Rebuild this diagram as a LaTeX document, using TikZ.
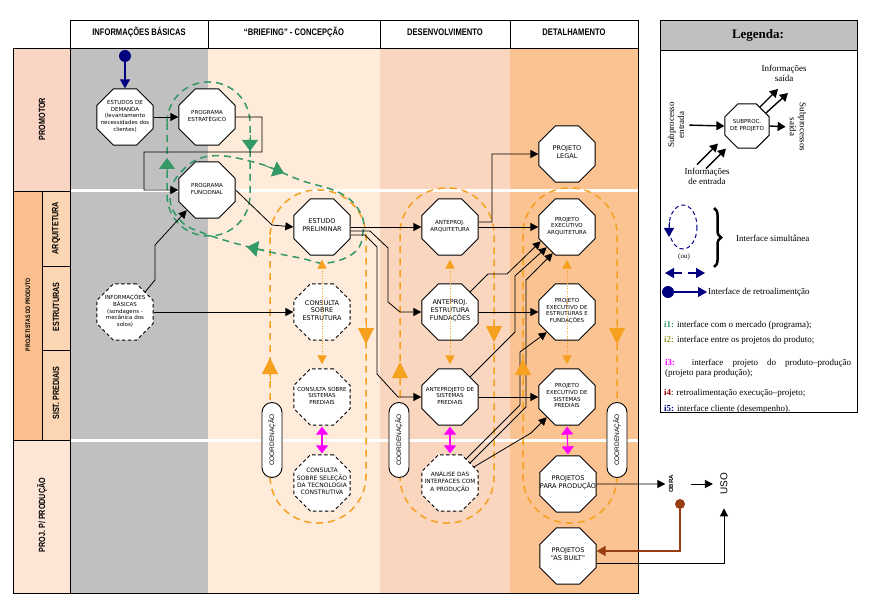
\documentclass[tikz,border=0pt]{standalone}
\usepackage{fontspec}
\setmainfont{Liberation Serif}
\newfontfamily\hdrfont[FakeStretch=0.8]{Liberation Sans}
\newfontfamily\lsansfont{Liberation Sans}
\newfontfamily\octfont{DejaVu Sans}
\usepackage{xcolor}
\usetikzlibrary{shapes.geometric,arrows.meta,decorations.pathreplacing,positioning}

\definecolor{colgray}{HTML}{C0C0C0}
\definecolor{colbrief}{HTML}{FEEBDA}
\definecolor{coldes}{HTML}{FBD6BF}
\definecolor{coldet}{HTML}{FAC391}
\definecolor{labprom}{HTML}{FBD5C4}
\definecolor{labproj}{HTML}{F9C08E}
\definecolor{labsub}{HTML}{FCD6B3}
\definecolor{labprod}{HTML}{FDE6D5}
\definecolor{loopor}{HTML}{F5A01E}
\definecolor{loopgr}{HTML}{339966}
\definecolor{fbnavy}{HTML}{000080}
\definecolor{fbbrown}{HTML}{993D12}
\definecolor{ifmag}{HTML}{FF00FF}
\definecolor{iolive}{HTML}{999933}
\definecolor{ired}{HTML}{990000}

% text of an octagon, kept from changing its size
\newcommand{\octtxt}[1]{\raisebox{-1.5pt}{\smash{\makebox[0pt]{\begin{tabular}{@{}c@{}}#1\end{tabular}}}}}

\begin{document}
\begin{tikzpicture}[x=1pt, y=-1pt,
    octo/.style={regular polygon, regular polygon sides=8, minimum size=61pt, inner sep=0pt,
        draw=black, line width=0.9pt, fill=white, font=\octfont\fontsize{5.5}{6.6}\selectfont},
    octbig/.style={octo, font=\octfont\fontsize{6.5}{7.8}\selectfont},
    octdash/.style={dash pattern=on 3.5pt off 2.5pt},
    conn/.style={draw=black, line width=0.8pt, -{Triangle[length=8pt,width=8pt]}},
    orloop/.style={draw=loopor, line width=1.5pt, dash pattern=on 7pt off 5pt},
    grloop/.style={draw=loopgr, line width=1.5pt, dash pattern=on 7pt off 5pt},
    ortip/.style={draw=loopor, line width=1pt, -{Triangle[length=16pt,width=16pt]}},
    grtip/.style={draw=loopgr, line width=1pt, -{Triangle[length=11pt,width=16pt]}},
    ordot/.style={draw=loopor, line width=1pt, dash pattern=on 1pt off 1.5pt,
        {Triangle[length=9pt,width=9pt]}-{Triangle[length=9pt,width=9pt]}, shorten <=4pt, shorten >=4pt},
    magarr/.style={draw=ifmag, line width=1.2pt,
        {Triangle[length=8pt,width=12pt]}-{Triangle[length=8pt,width=12pt]}, shorten <=1pt, shorten >=1pt},
    coordpill/.style={draw, line width=0.9pt, fill=white, rounded corners=10pt, minimum width=75pt,
        minimum height=20pt, rotate=90, inner sep=0pt, font=\lsansfont\fontsize{6.5}{7}\selectfont},
    hdr/.style={font=\hdrfont\bfseries\fontsize{9.5}{11}\selectfont},
    lane/.style={rotate=90, font=\hdrfont\bfseries\fontsize{9}{10}\selectfont},
    leg/.style={font=\fontsize{9}{10}\selectfont, align=center, inner sep=1pt},
    legarr/.style={draw, line width=1.4pt, -{Triangle[length=8pt,width=9pt]}},
    navyarr/.style={draw=fbnavy, line width=1.6pt, -{Triangle[length=9pt,width=10pt]}}]

    % Page size of the figure
    \useasboundingbox (0,0) rectangle (878,604);

    % Column backgrounds
    \fill[colgray] (70,48) rectangle (208,593);
    \fill[colbrief] (208,48) rectangle (380,593);
    \fill[coldes] (380,48) rectangle (510,593);
    \fill[coldet] (510,48) rectangle (638,593);

    % White lane separators
    \draw[white, line width=3pt] (70,191) -- (638,191);
    \draw[white, line width=3pt] (70,440) -- (638,440);
    \draw[thin] (70,48) rectangle (638,593);

    % Header row
    \draw[thin, fill=white] (70,20) rectangle (208,48);
    \draw[thin, fill=white] (208,20) rectangle (380,48);
    \draw[thin, fill=white] (380,20) rectangle (510,48);
    \draw[thin, fill=white] (510,20) rectangle (638,48);
    \node[hdr] (h_info) at (139,32) {INFORMAÇÕES BÁSICAS};
    \node[hdr] (h_brief) at (294,32) {“BRIEFING” - CONCEPÇÃO};
    \node[hdr] (h_desenv) at (445,32) {DESENVOLVIMENTO};
    \node[hdr] (h_detal) at (574,32) {DETALHAMENTO};

    % Lane labels
    \draw[thin, fill=labprom] (13,48) rectangle (70,191);
    \draw[thin, fill=labproj] (13,191) rectangle (42,440);
    \draw[thin, fill=labsub] (42,191) rectangle (70,266);
    \draw[thin, fill=labsub] (42,266) rectangle (70,350);
    \draw[thin, fill=labsub] (42,350) rectangle (70,440);
    \draw[thin, fill=labprod] (13,440) rectangle (70,593);
    \node[lane] (l_prom) at (42,119) {PROMOTOR};
    \node[lane, font=\hdrfont\bfseries\fontsize{6.5}{7}\selectfont] (l_projet) at (28,315) {PROJETISTAS DO PRODUTO};
    \node[lane] (l_arq) at (56,228) {ARQUITETURA};
    \node[lane] (l_estr) at (56,307) {ESTRUTURAS};
    \node[lane] (l_sist) at (56,393) {SIST. PREDIAIS};
    \node[lane] (l_prod) at (42,515) {PROJ. P/ PRODUÇÃO};

    % Simultaneous interface loops (orange)
    \draw[orloop, rounded corners=47pt] (270,190) rectangle (366,523);
    \draw[orloop, rounded corners=46pt] (400,188) rectangle (494,523);
    \draw[orloop, rounded corners=46pt] (523,188) rectangle (617,523);

    % Market interface loops (green)
    \draw[grloop, rounded corners=41pt] (167,82) rectangle (250,236);
    \draw[grloop] plot[smooth cycle, tension=0.7] coordinates {(170,197) (181,172) (210,156) (257,163)
        (300,180) (340,193) (360,212) (363,232) (355,252) (327,263) (300,258) (253,248) (203,233) (180,220)};

    % Promotor and basic information
    \node[octo] (est_dem) at (125,117) {\octtxt{ESTUDOS DE\\DEMANDA\\(levantamento\\necessidades dos\\clientes)}};
    \node[octo] (prog_est) at (207,117) {\octtxt{PROGRAMA\\ESTRATÉGICO}};
    \node[octo] (prog_func) at (207,190) {\octtxt{PROGRAMA\\FUNCIONAL}};
    \node[octo, octdash] (inf_bas) at (125,312) {\octtxt{INFORMAÇÕES\\BÁSICAS\\(sondagens -\\mecânica dos\\solos)}};

    % Briefing
    \node[octbig] (est_prel) at (322,227) {\octtxt{ESTUDO\\PRELIMINAR}};
    \node[octbig, octdash] (cons_estr) at (322,312) {\octtxt{CONSULTA\\SOBRE\\ESTRUTURA}};
    \node[octo, octdash] (cons_sist) at (322,397) {\octtxt{CONSULTA SOBRE\\SISTEMAS\\PREDIAIS}};
    \node[octo, octdash, font=\octfont\fontsize{6}{7.2}\selectfont] (cons_tec) at (322,483) {\octtxt{CONSULTA\\SOBRE SELEÇÃO\\DA TECNOLOGIA\\CONSTRUTIVA}};

    % Desenvolvimento
    \node[octo] (ante_arq) at (450,227) {\octtxt{ANTEPROJ.\\ARQUITETURA}};
    \node[octbig] (ante_estr) at (450,312) {\octtxt{ANTEPROJ.\\ESTRUTURA\\FUNDAÇÕES}};
    \node[octo] (ante_sist) at (450,397) {\octtxt{ANTEPROJETO DE\\SISTEMAS\\PREDIAIS}};
    \node[octo, octdash, font=\octfont\fontsize{5.8}{7}\selectfont] (analise) at (450,483) {\octtxt{ANÁLISE DAS\\INTERFACES COM\\A PRODUÇÃO}};

    % Detalhamento
    \node[octbig] (proj_legal) at (567,154) {\octtxt{PROJETO\\LEGAL}};
    \node[octo] (exec_arq) at (567,227) {\octtxt{PROJETO\\EXECUTIVO\\ARQUITETURA}};
    \node[octo] (exec_estr) at (567,312) {\octtxt{PROJETO\\EXECUTIVO DE\\ESTRUTURAS E\\FUNDAÇÕES}};
    \node[octo] (exec_sist) at (567,397) {\octtxt{PROJETO\\EXECUTIVO DE\\SISTEMAS\\PREDIAIS}};
    \node[octbig] (proj_prod) at (568,484) {\octtxt{PROJETOS\\PARA PRODUÇÃO}};
    \node[octbig] (as_built) at (568,556) {\octtxt{PROJETOS\\“AS BUILT”}};

    % Obra and uso
    \node[rotate=90, font=\lsansfont\bfseries\fontsize{6}{7}\selectfont] (obra) at (671,484) {OBRA};
    \node[rotate=90, font=\lsansfont\fontsize{10}{12}\selectfont] (uso) at (724,484) {USO};

    % Feedback dots
    \node[circle, fill=fbnavy, minimum size=12pt, inner sep=0pt] (fb_top) at (125,56) {};
    \node[circle, fill=fbbrown, minimum size=10pt, inner sep=0pt] (obra_fb) at (680,504) {};

    % Connectors
    \draw[navyarr] (fb_top) -- (est_dem.north);
    \draw[conn] (est_dem.east) -- (prog_est.west);
    \draw[conn] (prog_est.east) -- (262,117) -- (262,152) -- (144,152) |- (prog_func.west);
    \draw[conn] (prog_func.east) -- (272,225) -- (est_prel.west);
    \draw[conn] (inf_bas.north east) -- (155,280) -- (155,245) -- (prog_func.south west);
    \draw[conn] (inf_bas.east) -- (cons_estr.west);
    \draw[conn] (est_prel.east) -- (ante_arq.west);
    \draw[conn] ([yshift=-4pt]est_prel.east) -- (370,231) -- (388,248) -- (388,302) -- (400,312) -- (ante_estr.west);
    \draw[conn] ([yshift=-8pt]est_prel.east) -- (365,235) -- (377,247) -- (377,374) -- (398,397) -- (ante_sist.west);
    \draw[conn] ([yshift=5pt]ante_arq.east) -- (492,222) |- (proj_legal.west);
    \draw[conn] (ante_arq.east) -- (exec_arq.west);
    \draw[conn] (ante_estr.east) -- (exec_estr.west);
    \draw[conn] (ante_sist.east) -- (exec_sist.west);
    \draw[conn] (ante_estr.north east) -- (488,274) -- (507,274) -- ([xshift=-6pt,yshift=6pt]exec_arq.south west);
    \draw[conn] (ante_sist.north east) -- (515,332) -- (515,276) -- (exec_arq.south west);
    \draw[conn] ([xshift=-4pt,yshift=4pt]analise.north east) -- (520,405) -- (520,352) -- (exec_estr.south west);
    \draw[conn] (analise.north east) -- (526,407) -- (526,280) -- ([xshift=6pt,yshift=-6pt]exec_arq.south west);
    \draw[conn] ([xshift=4pt,yshift=-4pt]analise.north east) -- (531,433) -- (exec_sist.south west);
    \draw[conn] (proj_prod.east) -- (obra.north);
    \draw[conn, shorten <=14pt, shorten >=4pt] (obra.south) -- (uso.north);
    \draw[conn, shorten >=10pt] ([yshift=-7pt]as_built.east) -| (uso.west);
    \draw[draw=fbbrown, line width=1.4pt, -{Triangle[length=9pt,width=10pt]}] (obra_fb.south) |- ([yshift=5pt]as_built.east);

    % Interfaces between the projects
    \draw[ordot] (est_prel.south) -- (cons_sist.north);
    \draw[ordot] (ante_arq.south) -- (ante_sist.north);
    \draw[ordot] (exec_arq.south) -- (exec_sist.north);
    \draw[magarr] (cons_sist.south) -- (cons_tec.north);
    \draw[magarr] (ante_sist.south) -- (analise.north);
    \draw[magarr] (exec_sist.south) -- (proj_prod.north);

    % Loop direction marks
    \draw[ortip] (366,322) -- (366,344);
    \draw[ortip] (270,380) -- (270,358);
    \draw[ortip] (494,320) -- (494,342);
    \draw[ortip] (400,384) -- (400,362);
    \draw[ortip] (617,322) -- (617,344);
    \draw[ortip] (523,381) -- (523,359);
    \draw[grtip] (250,135) -- (250,151);
    \draw[grtip] (167,174) -- (167,158);
    \draw[grtip] (266,166) -- (284,173);
    \draw[grtip] (264,250) -- (247,247);

    % Coordination
    \node[coordpill] (coord1) at (272,440) {COORDENAÇÃO};
    \node[coordpill] (coord2) at (399,440) {COORDENAÇÃO};
    \node[coordpill] (coord3) at (617,440) {COORDENAÇÃO};

    % Legend box
    \draw[thin] (660,20) rectangle (857,412);
    \draw[thin, fill=colgray] (660,20) rectangle (857,50);
    \node[font=\bfseries\fontsize{13}{15}\selectfont] (leg_title) at (758,35) {Legenda:};
    \node[octo, minimum size=48pt] (sub) at (747,126) {\octtxt{SUBPROC.\\DE PROJETO}};
    \node[leg, rotate=90] (leg_sin) at (676,125) {Subprocesso\\entrada};
    \node[leg, rotate=-90] (leg_sout) at (798,127) {Subprocessos\\saída};
    \node[leg] (leg_iout) at (784,73) {Informações\\saída};
    \node[leg] (leg_iin) at (707,176) {Informações\\de entrada};
    \draw[legarr, shorten <=4pt] (leg_sin.south) -- (sub.west);
    \draw[legarr, shorten >=3pt] (sub.east) -- (leg_sout.south);
    \draw[legarr] ([xshift=-3pt,yshift=3pt]sub.north east) -- ++(18,-18);
    \draw[legarr] ([xshift=3pt,yshift=-3pt]sub.north east) -- ++(22,-20);
    \draw[legarr] (leg_iin.north) ++(-10,-2) -- ++(21,-21);
    \draw[legarr] (leg_iin.north) ++(-1,2) -- ++(20,-20);

    % Legend: simultaneous interface
    \draw[fbnavy, line width=1pt, dash pattern=on 4pt off 3pt] (683,227) ellipse (14 and 22);
    \draw[navyarr, line width=1pt] (669,222) -- (669,237);
    \node[font=\fontsize{7}{8}\selectfont] (leg_ou) at (684,257) {(ou)};
    \coordinate (dbl_mid) at (685,273);
    \draw[navyarr] ([xshift=-3pt]dbl_mid) -- ++(-17,0);
    \draw[navyarr] ([xshift=3pt]dbl_mid) -- ++(17,0);
    \draw[decorate, decoration={brace, amplitude=7pt}, line width=2.5pt] (714,208) -- (714,267);
    \node[leg, anchor=west] (leg_sim) at (735,238) {Interface simultânea};

    % Legend: feedback
    \node[circle, fill=fbnavy, minimum size=12pt, inner sep=0pt] (fb_leg) at (668,292) {};
    \node[leg, anchor=west] (leg_retro) at (707,292) {Interface de retroalimentção};
    \draw[navyarr, line width=1.2pt] (fb_leg) -- (leg_retro.west);

    % Legend: interfaces
    \node[leg, anchor=west] (leg_i1) at (663,325) {\textcolor{loopgr}{\textbf{i1:}} interface com o mercado (programa);};
    \node[leg, anchor=west] (leg_i2) at (663,340) {\textcolor{iolive}{\textbf{i2:}} interface entre os projetos do produto;};
    \node[leg, anchor=north west, text width=186pt, align=justify, inner sep=0pt] (leg_i3) at (665,359)
        {\textcolor{ifmag}{\textbf{i3:}} interface projeto do produto--produção\linebreak (projeto para produção);};
    \node[leg, anchor=west] (leg_i4) at (663,393) {\textcolor{ired}{\textbf{i4}}: retroalimentação execução--projeto;};
    \node[leg, anchor=west] (leg_i5) at (663,409) {\textcolor{fbnavy}{\textbf{i5:}} interface cliente (desempenho).};
\end{tikzpicture}
\end{document}
